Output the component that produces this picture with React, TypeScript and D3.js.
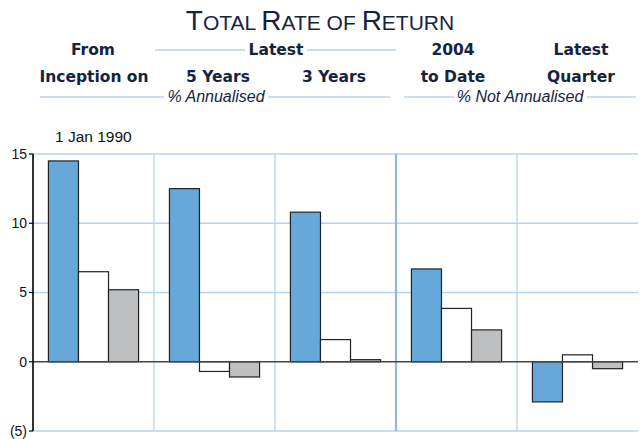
import React from "react";
import * as d3 from "d3";

// groups along the x axis
const groups = ["inception", "5y", "3y", "ytd", "qtr"];
const series = ["fund", "index", "peer"];
// values per series, in group order
const fundValues = [14.5, 12.5, 10.8, 6.7, -2.9];
const indexValues = [6.5, -0.7, 1.6, 3.85, 0.5];
const peerValues = [5.2, -1.1, 0.15, 2.3, -0.5];
const yTicks = [15, 10, 5, 0, -5];

const colors: Record<string, string> = { fund: "#66a8da", index: "#ffffff", peer: "#bebfc1" };

const W = 640;
const H = 439;
const margin = { top: 154, right: 2, bottom: 8, left: 33 };

const navy = "#15233f";
const lineBlue = "#9dbbdc";
const font = "Liberation Sans, Arial, sans-serif";

export default function App() {
  const innerW = W - margin.left - margin.right;
  const innerH = H - margin.top - margin.bottom;

  const x = d3.scaleBand().domain(groups).range([0, innerW]).paddingInner(0.255).paddingOuter(0.1275);
  const xs = d3.scaleBand().domain(series).range([0, x.bandwidth()]);
  const y = d3.scaleLinear().domain([-5, 15]).range([innerH, 0]);

  const data = groups.map((g, i) => ({
    g,
    vals: [
      { s: "fund", v: fundValues[i] },
      { s: "index", v: indexValues[i] },
      { s: "peer", v: peerValues[i] },
    ],
  }));

  const step = innerW / groups.length;
  const headStyle = { fontFamily: "DejaVu Sans, sans-serif", fontWeight: 700, fontSize: 15.5, fill: navy } as const;

  return (
    <svg width={W} height={H} style={{ position: "absolute", left: 0, top: 0 }}>
      {/* title */}
      <text x={W / 2} y={30} textAnchor="middle" fill={navy} fontFamily="Liberation Sans Narrow, Arial Narrow, sans-serif" fontSize={28}>
        <tspan>T</tspan><tspan fontSize={21}>OTAL </tspan>
        <tspan>R</tspan><tspan fontSize={21}>ATE OF </tspan>
        <tspan>R</tspan><tspan fontSize={21}>ETURN</tspan>
      </text>

      {/* column headers */}
      <line x1={155} x2={245} y1={50} y2={50} stroke={lineBlue} strokeWidth={1.2} />
      <line x1={307} x2={396} y1={50} y2={50} stroke={lineBlue} strokeWidth={1.2} />
      <text x={93} y={55} textAnchor="middle" {...headStyle}>From</text>
      <text x={276} y={55} textAnchor="middle" {...headStyle}>Latest</text>
      <text x={453} y={55} textAnchor="middle" {...headStyle}>2004</text>
      <text x={581} y={55} textAnchor="middle" {...headStyle}>Latest</text>

      <text x={94} y={82} textAnchor="middle" {...headStyle}>Inception on</text>
      <text x={218} y={82} textAnchor="middle" {...headStyle}>5 Years</text>
      <text x={334} y={82} textAnchor="middle" {...headStyle}>3 Years</text>
      <text x={453} y={82} textAnchor="middle" {...headStyle}>to Date</text>
      <text x={581} y={82} textAnchor="middle" {...headStyle}>Quarter</text>

      <text x={216} y={102} textAnchor="middle" fontFamily={font} fontStyle="italic" fontSize={16} fill={navy}>% Annualised</text>
      <line x1={40} x2={164} y1={97} y2={97} stroke={lineBlue} strokeWidth={1.2} />
      <line x1={268} x2={390} y1={97} y2={97} stroke={lineBlue} strokeWidth={1.2} />
      <text x={520} y={102} textAnchor="middle" fontFamily={font} fontStyle="italic" fontSize={16} fill={navy}>% Not Annualised</text>
      <line x1={404} x2={454} y1={97} y2={97} stroke={lineBlue} strokeWidth={1.2} />
      <line x1={587} x2={636} y1={97} y2={97} stroke={lineBlue} strokeWidth={1.2} />

      <text x={55} y={142} fontFamily={font} fontSize={15.5} fill="#111">1 Jan 1990</text>

      <g transform={`translate(${margin.left},${margin.top})`}>
        {/* horizontal grid */}
        {yTicks.filter((t) => t !== 0).map((t) => (
          <line key={t} x1={0} x2={innerW} y1={y(t)} y2={y(t)} stroke="#b9d2ec" strokeWidth={1.5} />
        ))}
        {/* vertical separators */}
        {groups.slice(1).map((g, i) => (
          <line
            key={g}
            x1={step * (i + 1)}
            x2={step * (i + 1)}
            y1={0}
            y2={innerH}
            stroke={i === 2 ? "#8fb8e2" : "#b9d2ec"}
            strokeWidth={i === 2 ? 2.2 : 1.3}
          />
        ))}

        {/* bars */}
        {data.map((d) => (
          <g key={d.g} transform={`translate(${x(d.g)},0)`}>
            {d.vals.map((b) => (
              <rect
                key={b.s}
                x={xs(b.s)}
                y={y(Math.max(0, b.v))}
                width={xs.bandwidth()}
                height={Math.abs(y(b.v) - y(0))}
                fill={colors[b.s]}
                stroke="#222"
                strokeWidth={1.2}
              />
            ))}
          </g>
        ))}

        {/* zero line */}
        <line x1={0} x2={innerW} y1={y(0)} y2={y(0)} stroke="#444" strokeWidth={1.5} />

        {/* y axis */}
        <line x1={0} x2={0} y1={0} y2={innerH} stroke="#000" strokeWidth={1.6} />
        {yTicks.map((t) => (
          <g key={t} transform={`translate(0,${y(t)})`}>
            <line x1={-4} x2={0} stroke="#000" strokeWidth={1.2} />
            <text x={-6} dy="0.35em" textAnchor="end" fontFamily={font} fontSize={14} fill="#111">
              {t < 0 ? `(${-t})` : t}
            </text>
          </g>
        ))}
      </g>
    </svg>
  );
}
